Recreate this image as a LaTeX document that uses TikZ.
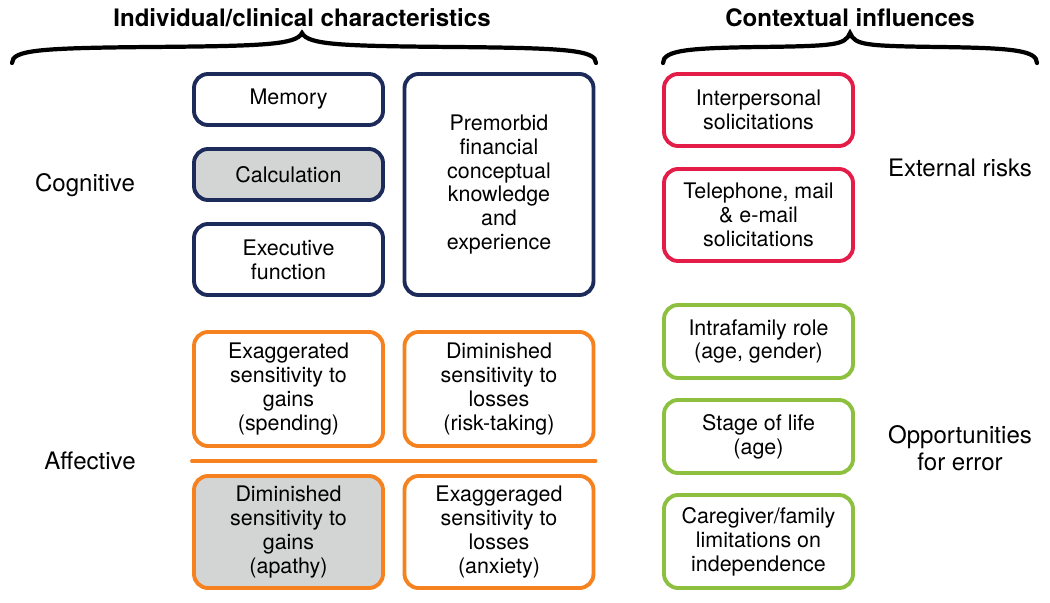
\documentclass[tikz,border=0pt]{standalone}
\usepackage{fontspec}
\setmainfont{TeX Gyre Heros}
\definecolor{navy}{HTML}{1C2B5A}
\definecolor{orng}{HTML}{F5821F}
\definecolor{crimson}{HTML}{E31C48}
\definecolor{leaf}{HTML}{8DC03F}
\definecolor{shade}{HTML}{D3D4D4}
\tikzset{
  box/.style={draw,line width=2.2pt,rounded corners=0.28cm,align=center,
    minimum width=189*0.02cm,inner sep=0pt,
    font=\fontsize{12.2}{13.6}\selectfont},
  cogbox/.style={box,navy,text=black},
  affbox/.style={box,orng,text=black},
  riskbox/.style={box,crimson,text=black},
  errbox/.style={box,leaf,text=black},
  sidelabel/.style={align=center,font=\fontsize{13.7}{15.5}\selectfont},
  heading/.style={font=\fontsize{13.7}{15}\selectfont\bfseries},
  curly/.style={line width=2.4pt,line cap=round}
}

\begin{document}
\begin{tikzpicture}[x=0.02cm,y=-0.02cm]
\useasboundingbox[fill=white] (0,0) rectangle (1050,602);

% headings and braces
\node[heading] (indiv) at (302,18) {Individual/clinical characteristics};
\node[heading] (context) at (850,18) {Contextual influences};
\draw[curly] (12,63) .. controls (12,50) and (40,48) .. (150,47)
  .. controls (262,46) and (296,45) .. (302,33)
  .. controls (308,45) and (342,46) .. (454,47)
  .. controls (566,48) and (596,50) .. (596,63);
\draw[curly] (663,63) .. controls (663,50) and (690,48) .. (760,47)
  .. controls (836,46) and (845,45) .. (850,33)
  .. controls (855,45) and (864,46) .. (940,47)
  .. controls (1010,48) and (1037,50) .. (1037,63);

% cognitive
\node[sidelabel] (cog) at (85,185) {Cognitive};
\node[cogbox,minimum height=51*0.02cm] (memory) at (288.5,99.5) {Memory};
\node[cogbox,fill=shade,minimum height=51*0.02cm] (calc) at (288.5,174.5) {Calculation};
\node[cogbox,minimum height=71*0.02cm] (exec) at (288.5,259.5) {Executive\\function};
\node[cogbox,minimum height=221*0.02cm] (premorbid) at (499,184.5) {Premorbid\\financial\\conceptual\\knowledge\\and\\experience};

% affective
\node[sidelabel] (aff) at (90,461) {Affective};
\node[affbox,minimum height=114*0.02cm] (exgains) at (288.5,389) {Exaggerated\\sensitivity to\\gains\\(spending)};
\node[affbox,minimum height=114*0.02cm] (dimloss) at (499,389) {Diminished\\sensitivity to\\losses\\(risk-taking)};
\node[affbox,fill=shade,minimum height=112*0.02cm] (dimgains) at (288.5,532) {Diminished\\sensitivity to\\gains\\(apathy)};
\node[affbox,minimum height=112*0.02cm] (exloss) at (499,532) {Exaggeraged\\sensitivity to\\losses\\(anxiety)};
\draw[orng,line width=2.3pt,line cap=round] (exgains.west |- 0,461) -- (dimloss.east |- 0,461);

% external risks
\node[sidelabel] (risks) at (960,168) {External risks};
\node[riskbox,minimum height=72*0.02cm] (interp) at (758.5,110) {Interpersonal\\solicitations};
\node[riskbox,minimum height=92*0.02cm] (phone) at (758.5,215) {Telephone, mail\\\& e-mail\\solicitations};

% opportunities for error
\node[sidelabel] (errors) at (960,448) {Opportunities\\for error};
\node[errbox,minimum height=73*0.02cm] (intra) at (758.5,341.5) {Intrafamily role\\(age, gender)};
\node[errbox,minimum height=73*0.02cm] (stage) at (758.5,436.5) {Stage of life\\(age)};
\node[errbox,minimum height=93*0.02cm] (carer) at (758.5,541.5) {Caregiver/family\\limitations on\\independence};
\end{tikzpicture}
\end{document}
